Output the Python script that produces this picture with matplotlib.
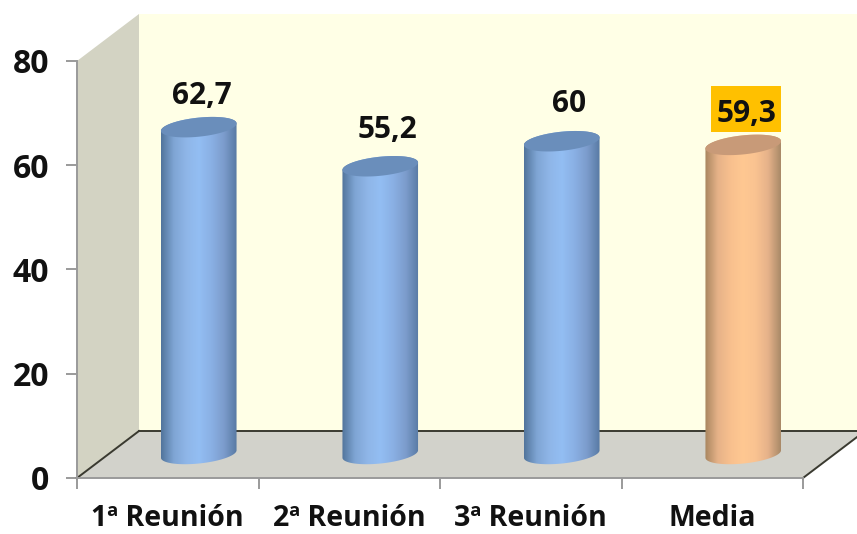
import matplotlib
matplotlib.use("Agg")
import matplotlib.pyplot as plt
import numpy as np
from matplotlib.patches import Polygon, Rectangle

# Data
categories = ['1ª Reunión', '2ª Reunión', '3ª Reunión', 'Media']
values = [62.7, 55.2, 60, 59.3]
value_labels = ['62,7', '55,2', '60', '59,3']
y_ticks = [0, 20, 40, 60, 80]

# Label nudges in points, the labels were moved by hand in the original
label_dx = [2, 5.5, 5, 2]
label_dy = [22.5, 26, 27, 22]

W, H = 857, 534
plt.rcParams['font.family'] = ['Open Sans', 'DejaVu Sans']
plt.rcParams['font.weight'] = 'bold'

fig = plt.figure(figsize=(W / 100, H / 100), dpi=100)
ax = fig.add_axes([77 / W, 1 - 478 / H, 726 / W, 417 / H])
ax.set_xlim(0, 4)
ax.set_ylim(0, 80)

# pixels per data unit
px_x = 726 / 4
px_y = 417 / 80
# depth of the fake 3d box, in data units
dx = 62 / px_x
dy = 47 / px_y

wall_c = '#D3D3C3'
floor_c = '#D2D2CB'
back_c = '#FFFFE6'
line_c = '#3A3A30'

ax.patch.set_visible(False)
ax.add_patch(Polygon([(dx, dy), (4 + dx, dy), (4 + dx, 80 + dy), (dx, 80 + dy)],
                     fc=back_c, ec='none', clip_on=False, zorder=0))
ax.add_patch(Polygon([(0, 0), (dx, dy), (dx, 80 + dy), (0, 80)],
                     fc=wall_c, ec='none', clip_on=False, zorder=1))
ax.add_patch(Polygon([(0, 0), (4, 0), (4 + dx, dy), (dx, dy)],
                     fc=floor_c, ec='none', clip_on=False, zorder=1))
ax.plot([0, dx], [0, dy], color=line_c, lw=1.4, clip_on=False, zorder=2)
ax.plot([4, 4 + dx], [0, dy], color=line_c, lw=1.4, clip_on=False, zorder=2)
ax.plot([dx, 4 + dx], [dy, dy], color=line_c, lw=1.4, clip_on=False, zorder=2)


def ellipse(cx, cy, t):
    a, b, tilt = 38, 9.5, np.radians(6)
    ex = a * np.cos(t)
    ey = b * np.sin(t)
    x = ex * np.cos(tilt) - ey * np.sin(tilt)
    y = ex * np.sin(tilt) + ey * np.cos(tilt)
    return cx + x / px_x, cy + y / px_y


def cylinder(cx, v, shades, top_c):
    base = dy / 2 + 0.1
    top = base + v
    t_low = np.linspace(np.pi, 2 * np.pi, 60)
    t_up = np.linspace(0, np.pi, 60)
    xl, yl = ellipse(cx, base, t_low)
    xu, yu = ellipse(cx, top, t_up)
    body = Polygon(np.column_stack([np.r_[xl, xu], np.r_[yl, yu]]),
                   fc='none', ec='none', clip_on=False, zorder=3)
    ax.add_patch(body)

    # horizontal shading across the cylinder
    cmap = matplotlib.colors.LinearSegmentedColormap.from_list('c', shades)
    grad = np.linspace(0, 1, 128).reshape(1, -1)
    w = 38 / px_x
    im = ax.imshow(grad, cmap=cmap, aspect='auto', zorder=3,
                   extent=[cx - w, cx + w, base - 3, top + 3])
    im.set_clip_path(body)

    xt, yt = ellipse(cx, top, np.linspace(0, 2 * np.pi, 120))
    ax.fill(xt, yt, color=top_c, ec='none', clip_on=False, zorder=4)
    return top


blue = ['#52759C', '#7FA5D4', '#8FB6E8', '#93BEF3', '#8AB0E4', '#7C9CCC', '#587AA4']
orange = ['#A98660', '#E6B288', '#F8C08E', '#FFC892', '#FAC391', '#E6B28A', '#A98A68']

for i, v in enumerate(values):
    cx = i + 0.5 + dx / 2
    if categories[i] == 'Media':
        top = cylinder(cx, v, orange, '#C89A78')
        # yellow box behind the label
        ax.add_patch(Rectangle((cx - 32 / px_x, top + 13 / px_y), 70 / px_x, 46 / px_y,
                               fc='#FFC000', ec='none', clip_on=False, zorder=4.5))
    else:
        top = cylinder(cx, v, blue, '#6A8EBB')
    ax.annotate(value_labels[i], (cx, top), xytext=(label_dx[i], label_dy[i]),
                textcoords='offset points', ha='center', va='center',
                fontsize=21.5, fontweight='bold', color='#111111', zorder=5)

ax.set_xlim(0, 4)
ax.set_ylim(0, 80)

# axes
ax.set_yticks(y_ticks)
ax.set_xticks(range(5))
ax.set_xticklabels([])
ax.set_xticks(np.arange(4) + 0.5, categories, minor=True)
for s in ['top', 'right']:
    ax.spines[s].set_visible(False)
for s in ['left', 'bottom']:
    ax.spines[s].set_color('#9A9A9A')
    ax.spines[s].set_linewidth(1.4)
    ax.spines[s].set_zorder(2.5)
ax.tick_params(axis='both', which='major', length=8, width=1.4, color='#9A9A9A')
ax.tick_params(axis='y', labelsize=23, pad=12, labelcolor='#111111')
ax.tick_params(axis='x', which='minor', length=0, labelsize=20.5, pad=18.5, labelcolor='#111111')

fig.savefig('out.png', dpi=100)
